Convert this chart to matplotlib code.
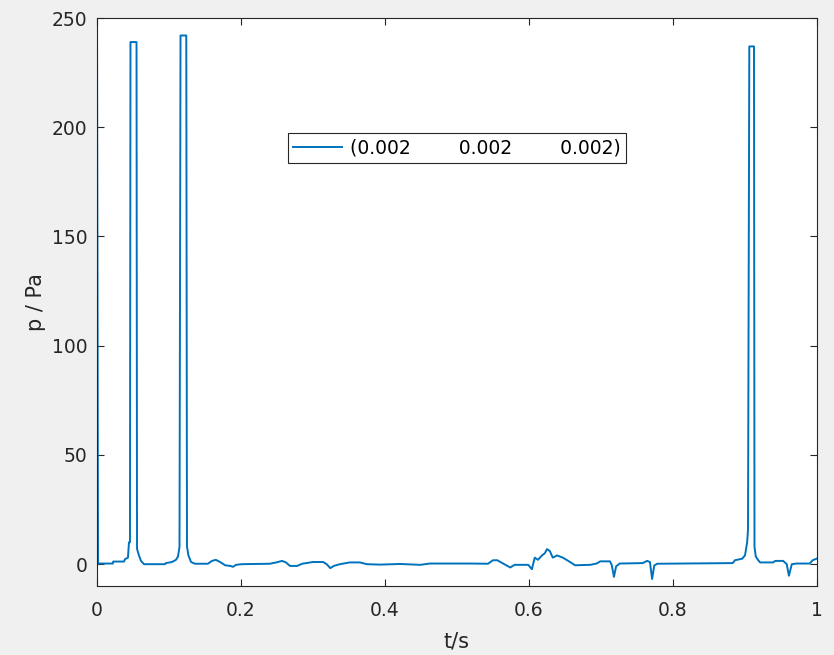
import matplotlib
matplotlib.use('Agg')
import matplotlib.pyplot as plt

# Puntos (t en s, p en Pa)
t = [0.0, 0.0014, 0.022, 0.0225, 0.0375, 0.0389, 0.043, 0.0444, 0.0458, 0.0465, 0.0549, 0.0556,
     0.0583, 0.0611, 0.0653, 0.0944, 0.0958, 0.1042, 0.1097, 0.1125, 0.1146, 0.116, 0.124, 0.125,
     0.127, 0.1306, 0.136, 0.154, 0.1597, 0.165, 0.172, 0.178, 0.185, 0.189, 0.193, 0.201, 0.24,
     0.249, 0.257, 0.2625, 0.268, 0.278, 0.285, 0.3, 0.314, 0.319, 0.324, 0.329, 0.3375, 0.351,
     0.365, 0.375, 0.393, 0.421, 0.449, 0.4625, 0.518, 0.543, 0.55, 0.556, 0.564, 0.574, 0.58,
     0.599, 0.604, 0.608, 0.6125, 0.618, 0.622, 0.625, 0.629, 0.633, 0.639, 0.647, 0.657, 0.664,
     0.685, 0.694, 0.699, 0.7125, 0.715, 0.718, 0.721, 0.726, 0.758, 0.764, 0.768, 0.771, 0.774,
     0.778, 0.883, 0.886, 0.896, 0.9, 0.903, 0.9042, 0.906, 0.9125, 0.9132, 0.915, 0.918, 0.921,
     0.939, 0.942, 0.953, 0.958, 0.961, 0.965, 0.972, 0.99, 0.994, 1.0]
p = [250, 0.3, 0.3, 1.2, 1.2, 2.3, 3, 10, 10, 239, 239, 7,
     4, 1.5, 0, 0, 0.5, 1, 2, 3.5, 8, 242, 242, 8,
     4, 1, 0.2, 0.2, 1.5, 2, 0.8, -0.5, -0.8, -1.2, -0.3, 0, 0.2,
     0.8, 1.5, 0.8, -0.8, -0.8, 0.2, 1, 1, 0, -1.8, -0.8, 0, 0.8,
     0.8, 0, -0.2, 0.1, -0.3, 0.3, 0.3, 0.2, 1.8, 1.8, 0.3, -1.5, -0.3,
     -0.3, -2.3, 3, 2, 4, 5, 6.9, 6, 3, 4, 3, 1, -0.5,
     -0.3, 0.3, 1.3, 1.3, -0.5, -5.8, -1, 0.3, 0.5, 1.5, 1, -6.8, -0.6,
     0.2, 0.5, 1.8, 2.5, 4, 10, 16, 237, 237, 8, 3.5, 2, 0.8,
     0.8, 1.5, 1.5, 0, -5.3, 0, 0.3, 0.3, 1.8, 2.6]
etiqueta = '(0.002        0.002        0.002)'

fig = plt.figure(figsize=(8.34, 6.55), dpi=100, facecolor='#f0f0f0')
ax = fig.add_axes([0.1163, 0.1053, 0.8633, 0.8672])
ax.plot(t, p, color='#0072bd', lw=1.4, label=etiqueta)
ax.set_xlim(0, 1)
ax.set_ylim(-10, 250)
ax.set_xticks([0, 0.2, 0.4, 0.6, 0.8, 1])
ax.set_xticklabels(['0', '0.2', '0.4', '0.6', '0.8', '1'])
ax.set_yticks([0, 50, 100, 150, 200, 250])
ax.tick_params(direction='in', top=True, right=True, length=5, width=0.8,
               colors='#262626', labelsize=13.5)
ax.tick_params(axis='x', pad=11)
ax.tick_params(axis='y', pad=7)
for s in ax.spines.values():
    s.set_color('#262626')
    s.set_linewidth(0.8)
ax.set_xlabel('t/s', fontsize=15, color='#262626', labelpad=8)
ax.set_ylabel('p / Pa', fontsize=15, color='#262626', labelpad=4)
leg = ax.legend(loc='center', bbox_to_anchor=(0.5, 0.771), fancybox=False,
                edgecolor='#262626', fontsize=13.5, handlelength=2.6, handletextpad=0.4,
                borderpad=0.3, framealpha=1)
leg.get_frame().set_linewidth(0.8)
plt.savefig('out.png', dpi=100, facecolor=fig.get_facecolor())
